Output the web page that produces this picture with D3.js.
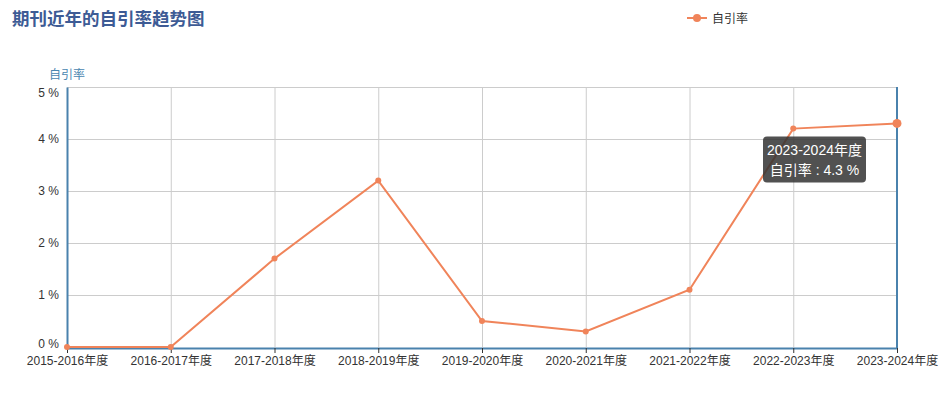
<!DOCTYPE html>
<html><head><meta charset="utf-8">
<script src="https://cdn.jsdelivr.net/npm/d3@7"></script>
<style>body{margin:0;background:#fff;}</style>
</head><body><svg id="c" width="950" height="401"></svg>
<script>
const categories = ["2015-2016年度","2016-2017年度","2017-2018年度","2018-2019年度","2019-2020年度","2020-2021年度","2021-2022年度","2022-2023年度","2023-2024年度"];
const selfCiteRate = [0, 0, 1.7, 3.2, 0.5, 0.3, 1.1, 4.2, 4.3];
const yTicks = [0,1,2,3,4,5];
const seriesName = "自引率";
const title = "期刊近年的自引率趋势图";

const svg = d3.select("#c");
const font = '"Liberation Sans", "Noto Sans CJK SC", sans-serif';
const m = {l:67, r:897, t:87, b:347};
const x = d3.scalePoint().domain(categories).range([m.l, m.r]);
const y = d3.scaleLinear().domain([0,5]).range([m.b, m.t]);
const lineColor = "#f0845a", axisColor = "#4a82ad";

// title
svg.append("text").attr("x",12).attr("y",25).text(title)
  .attr("font-family",font).attr("font-size",17.5).attr("font-weight","bold").attr("fill","#3d5b95");

// legend
const lg = svg.append("g").attr("transform","translate(687,18)");
lg.append("line").attr("x1",0).attr("x2",20).attr("y1",0).attr("y2",0).attr("stroke",lineColor).attr("stroke-width",2);
lg.append("circle").attr("cx",10).attr("cy",0).attr("r",4).attr("fill",lineColor);
lg.append("text").attr("x",25).attr("y",4.5).text(seriesName).attr("font-family",font).attr("font-size",12).attr("fill","#333");

// y name
svg.append("text").attr("x",67).attr("y",79).attr("text-anchor","middle").text(seriesName)
  .attr("font-family",font).attr("font-size",12).attr("fill","#4a86b0");

// grid
svg.append("g").selectAll("line").data(yTicks.slice(1)).join("line")
  .attr("x1",m.l).attr("x2",m.r).attr("y1",d=>y(d)+0.5).attr("y2",d=>y(d)+0.5)
  .attr("stroke","#ccc").attr("stroke-width",1);
svg.append("g").selectAll("line").data(categories.slice(1,-1)).join("line")
  .attr("x1",d=>x(d)+0.5).attr("x2",d=>x(d)+0.5).attr("y1",m.t).attr("y2",m.b)
  .attr("stroke","#ccc").attr("stroke-width",1);

// y axis
const ya = d3.axisLeft(y).tickValues(yTicks).tickFormat(d=>d+" %").tickSize(0).tickPadding(8);
const yg = svg.append("g").attr("transform",`translate(${m.l},0)`).call(ya);
yg.select(".domain").attr("stroke",axisColor).attr("stroke-width",2);
yg.selectAll("text").attr("font-family",font).attr("font-size",12).attr("fill","#333")
  .attr("dy", d=> d===5 ? "0.82em" : d===0 ? "0.05em" : "0.32em");

// right axis line
svg.append("line").attr("x1",m.r).attr("x2",m.r).attr("y1",m.t).attr("y2",m.b+1).attr("stroke",axisColor).attr("stroke-width",2);

// x axis
const xa = d3.axisBottom(x).tickSize(5).tickSizeOuter(0).tickPadding(3);
const xg = svg.append("g").attr("transform",`translate(0,${m.b+1})`).call(xa);
xg.select(".domain").attr("stroke",axisColor).attr("stroke-width",2);
xg.selectAll(".tick line").attr("stroke","#333");
xg.selectAll("text").attr("font-family",font).attr("font-size",12).attr("fill","#333");

// line
const data = categories.map((c,i)=>({c,v:selfCiteRate[i]}));
svg.append("path").datum(data).attr("fill","none").attr("stroke",lineColor).attr("stroke-width",2)
  .attr("d", d3.line().x(d=>x(d.c)).y(d=>y(d.v)));
svg.append("g").selectAll("circle").data(data).join("circle")
  .attr("cx",d=>x(d.c)).attr("cy",d=>y(d.v)).attr("r",(d,i)=>i===data.length-1?4.5:3).attr("fill",lineColor);

// tooltip
const last = data[data.length-1];
const tg = svg.append("g").attr("transform",`translate(${x(last.c)-134},${y(last.v)+13})`);
tg.append("rect").attr("width",103).attr("height",46).attr("rx",4).attr("fill","rgba(50,50,50,0.85)");
tg.append("text").attr("x",51.5).attr("y",19).attr("text-anchor","middle").text(last.c)
  .attr("font-family",font).attr("font-size",14).attr("fill","#fff");
tg.append("text").attr("x",51.5).attr("y",39).attr("text-anchor","middle").text(`${seriesName} : ${last.v} %`)
  .attr("font-family",font).attr("font-size",14).attr("fill","#fff");
</script></body></html>
